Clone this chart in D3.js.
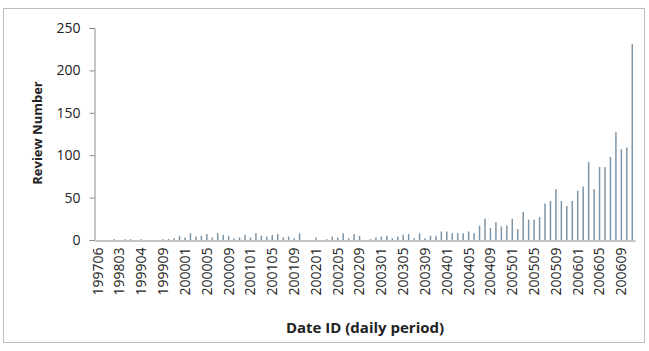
<!DOCTYPE html>
<html>
<head>
<meta charset="utf-8">
<script src="https://cdn.jsdelivr.net/npm/d3@7"></script>
<style>
  body { margin: 0; background: #fff; }
  text { font-family: "Open Sans", sans-serif; }
</style>
</head>
<body>
<div id="okvir"></div>
<script>
// months that have data (some early months are missing)
const months = [
  "199706","199708","199710","199712","199803","199806","199809","199812",
  "199904","199905","199906","199908","199909","199910","199911","199912",
  "200001","200002","200003","200004","200005","200006","200007","200008",
  "200009","200010","200011","200012","200101","200102","200103","200104",
  "200105","200106","200107","200108","200109","200110","200111","200112",
  "200201","200202","200203","200204","200205","200206","200207","200208",
  "200209","200210","200211","200212","200301","200302","200303","200304",
  "200305","200306","200307","200308","200309","200310","200311","200312",
  "200401","200402","200403","200404","200405","200406","200407","200408",
  "200409","200410","200411","200412","200501","200502","200503","200504",
  "200505","200506","200507","200508","200509","200510","200511","200512",
  "200601","200602","200603","200604","200605","200606","200607","200608",
  "200609","200610","200611"
];

const reviews = [
  0, 0, 0, 1, 0, 1, 1, 0,
  1, 0, 0, 0, 1, 1, 2, 5,
  3, 8, 4, 5, 7, 3, 8, 6,
  5, 2, 3, 6, 3, 8, 5, 4,
  6, 7, 3, 4, 2, 8, 0, 0,
  3, 0, 1, 4, 3, 8, 2, 7,
  5, 0, 1, 3, 4, 5, 2, 4,
  6, 7, 2, 8, 2, 5, 5, 10,
  10, 8, 8, 8, 10, 8, 17, 25,
  14, 21, 16, 17, 25, 13, 33, 24,
  24, 27, 43, 46, 60, 46, 40, 46,
  58, 63, 92, 60, 86, 86, 98, 127,
  107, 109, 231
];

const yTicks = [0, 50, 100, 150, 200, 250];
const xLabels = months.filter((m, i) => i % 4 === 0);

const podatci = months.map((m, i) => ({ mjesec: m, broj: reviews[i] }));

const sirina = 649, visina = 351;
const granica = { left: 95, right: 635, top: 28, bottom: 240 };

const svg = d3.select("#okvir").append("svg")
  .attr("width", sirina)
  .attr("height", visina);

// outer frame
svg.append("rect")
  .attr("x", 3.5).attr("y", 8.5)
  .attr("width", 641).attr("height", 334)
  .attr("fill", "#fff")
  .attr("stroke", "#bdbdbd");

const xSkala = d3.scaleBand()
  .domain(months)
  .range([granica.left, granica.right]);

const ySkala = d3.scaleLinear()
  .domain([0, 250])
  .range([granica.bottom, granica.top]);

// bars
svg.append("g")
  .selectAll("rect")
  .data(podatci)
  .join("rect")
    .attr("x", d => xSkala(d.mjesec) + xSkala.bandwidth() / 2 - 0.75)
    .attr("y", d => ySkala(d.broj))
    .attr("width", 1.5)
    .attr("height", d => ySkala(0) - ySkala(d.broj))
    .attr("fill", "#7d95a6");

// y axis
const yOs = svg.append("g")
  .attr("transform", `translate(${granica.left - 0.5},0)`)
  .call(d3.axisLeft(ySkala).tickValues(yTicks).tickSize(5).tickPadding(9));
yOs.select(".domain").attr("stroke", "#8c8c8c");
yOs.selectAll(".tick line").attr("stroke", "#8c8c8c");
yOs.selectAll(".tick text")
  .attr("fill", "#222")
  .style("font-size", "14px");

// x axis
const xOs = svg.append("g")
  .attr("transform", `translate(0,${granica.bottom + 0.5})`)
  .call(d3.axisBottom(xSkala).tickValues(xLabels).tickSize(0).tickSizeOuter(0));
xOs.select(".domain").attr("stroke", "#8c8c8c");
xOs.selectAll(".tick text")
  .attr("fill", "#222")
  .style("font-size", "14px")
  .attr("text-anchor", "end")
  .attr("transform", "rotate(-90)")
  .attr("x", -7)
  .attr("y", 0)
  .attr("dy", "0.35em");

// axis titles
svg.append("text")
  .attr("x", 365)
  .attr("y", 333)
  .attr("text-anchor", "middle")
  .attr("fill", "#222")
  .style("font-size", "15px")
  .style("font-weight", "bold")
  .text("Date ID (daily period)");

svg.append("text")
  .attr("transform", "translate(42,133) rotate(-90)")
  .attr("text-anchor", "middle")
  .attr("fill", "#222")
  .style("font-size", "13px")
  .style("font-weight", "bold")
  .text("Review Number");
</script>
</body>
</html>
